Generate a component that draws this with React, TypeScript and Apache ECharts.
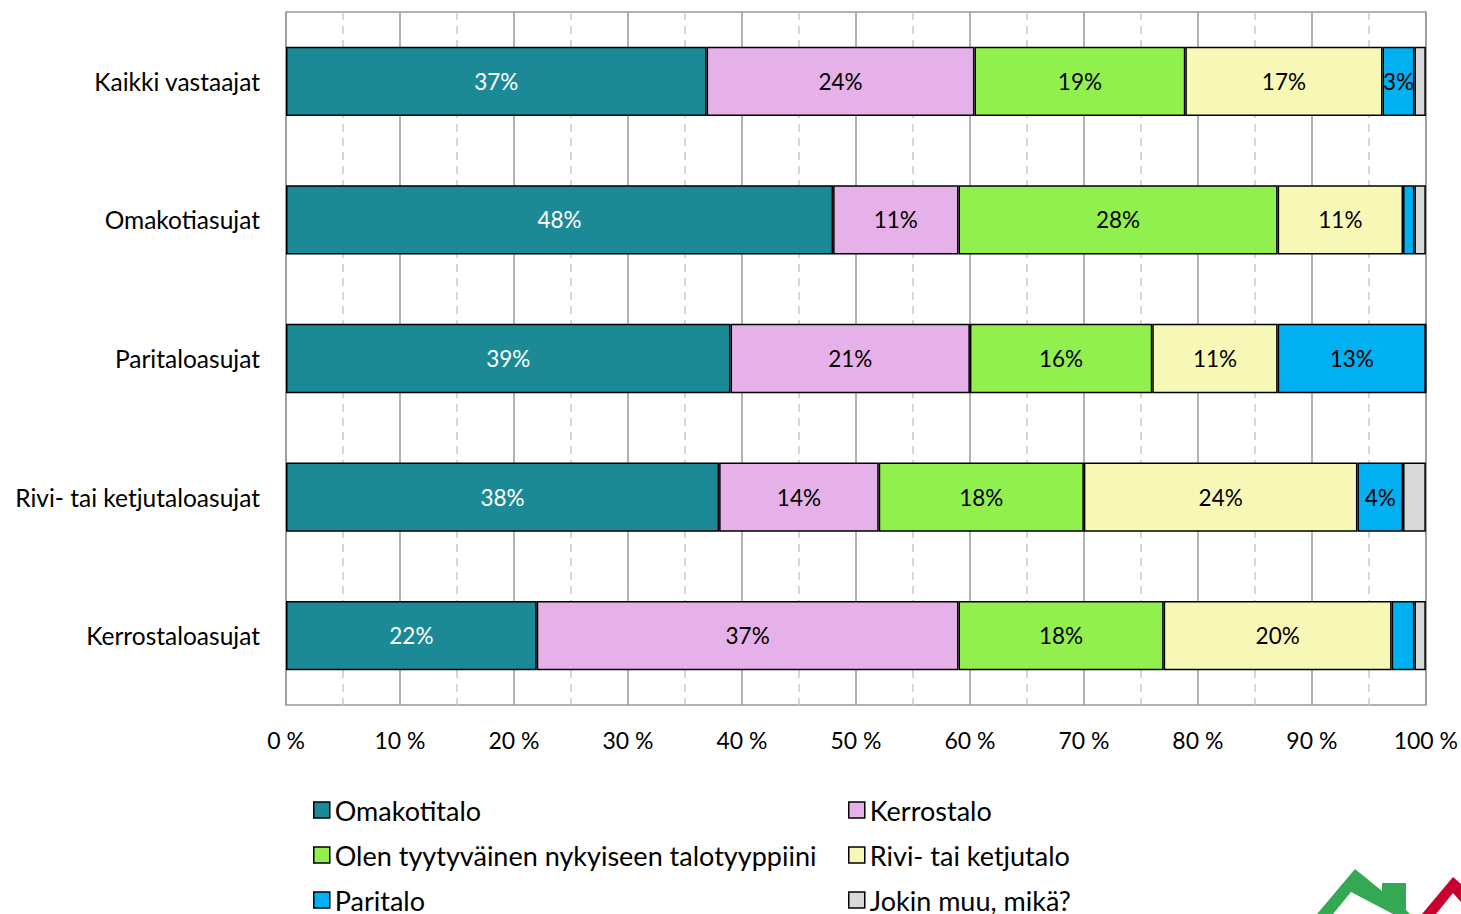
import React, { useEffect, useRef } from "react";
import * as echarts from "echarts";

const categories = [
  "Kaikki vastaajat",
  "Omakotiasujat",
  "Paritaloasujat",
  "Rivi- tai ketjutaloasujat",
  "Kerrostaloasujat",
];
const omakotitalo = [36.9, 48.0, 39.0, 38.0, 22.0];
const kerrostalo = [23.5, 11.0, 21.0, 14.0, 37.0];
const tyytyvainen = [18.5, 28.0, 16.0, 18.0, 18.0];
const rivitalo = [17.3, 11.0, 11.0, 24.0, 20.0];
const paritalo = [2.8, 1.0, 13.0, 4.0, 2.0];
const jokinMuu = [1.0, 1.0, 0.0, 2.0, 1.0];
const xTicks = [0, 10, 20, 30, 40, 50, 60, 70, 80, 90, 100];

const seriesDefs = [
  { name: "Omakotitalo", data: omakotitalo, color: "#1B8A96", label: "#ffffff" },
  { name: "Kerrostalo", data: kerrostalo, color: "#E6B0E8", label: "#000000" },
  { name: "Olen tyytyväinen nykyiseen talotyyppiini", data: tyytyvainen, color: "#92F04E", label: "#000000" },
  { name: "Rivi- tai ketjutalo", data: rivitalo, color: "#F8F8B6", label: "#000000" },
  { name: "Paritalo", data: paritalo, color: "#00B0F0", label: "#000000" },
  { name: "Jokin muu, mikä?", data: jokinMuu, color: "#D9D9D9", label: "#000000" },
];

// legend slots: [series index, column, row]
const legendSlots = [
  [0, 0, 0],
  [2, 0, 1],
  [4, 0, 2],
  [1, 1, 0],
  [3, 1, 1],
  [5, 1, 2],
];

const FONT = "Lato, 'Open Sans', sans-serif";

export default function App() {
  const ref = useRef<HTMLDivElement>(null);
  useEffect(() => {
    if (!ref.current) return;
    const chart = echarts.init(ref.current, null, { renderer: "svg" });
    const legendText = { fontSize: 27, fontFamily: FONT, color: "#000", lineHeight: 30 };
    chart.setOption({
      animation: false,
      backgroundColor: "#fff",
      textStyle: { fontFamily: FONT },
      grid: {
        left: 286,
        right: 35,
        top: 12,
        bottom: 209,
        show: true,
        borderColor: "#999",
        borderWidth: 1.5,
      },
      legend: legendSlots.map(([si, col, row]) => ({
        orient: "horizontal",
        icon: "rect",
        itemWidth: 16,
        itemHeight: 16,
        itemGap: 10,
        padding: 0,
        textStyle: legendText,
        selectedMode: false,
        itemStyle: { borderColor: "#000", borderWidth: 1.5 },
        left: col === 0 ? 313 : 848,
        top: 795 + row * 45,
        data: [seriesDefs[si].name],
      })),
      xAxis: {
        type: "value",
        min: 0,
        max: 100,
        interval: 10,
        axisLine: { show: false },
        axisTick: { show: false },
        axisLabel: {
          formatter: (v: number) => (xTicks.includes(v) ? `${v} %` : ""),
          fontSize: 23,
          color: "#000",
          margin: 23,
          fontFamily: FONT,
        },
        splitLine: { show: true, lineStyle: { color: "#999", width: 1.5 } },
        minorTick: { show: false, splitNumber: 2 },
        minorSplitLine: { show: true, lineStyle: { color: "#c8c8c8", width: 1.5, type: [8, 6] } },
      },
      yAxis: {
        type: "category",
        data: categories,
        inverse: true,
        axisLine: { show: false },
        axisTick: { show: false },
        axisLabel: { fontSize: 24.5, color: "#000", margin: 26, fontFamily: FONT },
      },
      series: seriesDefs.map((s) => ({
        name: s.name,
        type: "bar",
        stack: "total",
        barWidth: "50%",
        data: s.data,
        itemStyle: { color: s.color, borderColor: "#000", borderWidth: 1.5 },
        label: {
          show: true,
          position: "inside",
          color: s.label,
          fontSize: 22.5,
          fontFamily: FONT,
          formatter: (p: any) => (p.value >= 2.5 ? `${Math.round(p.value)}%` : ""),
        },
      })),
      graphic: [
        {
          type: "polygon",
          shape: {
            points: [
              [1317, 914], [1355, 869], [1382, 891], [1382, 883], [1406, 883],
              [1406, 910], [1410, 914], [1393, 914], [1351, 892], [1333, 914],
            ],
          },
          style: { fill: "#34A853" },
        },
        {
          type: "polygon",
          shape: {
            points: [[1422, 914], [1453, 877], [1461, 884], [1461, 902], [1453, 893], [1436, 914]],
          },
          style: { fill: "#C8002F" },
        },
      ],
    });
    return () => chart.dispose();
  }, []);
  return (
    <div
      ref={ref}
      style={{ position: "absolute", left: 0, top: 0, width: 1461, height: 914 }}
    />
  );
}
